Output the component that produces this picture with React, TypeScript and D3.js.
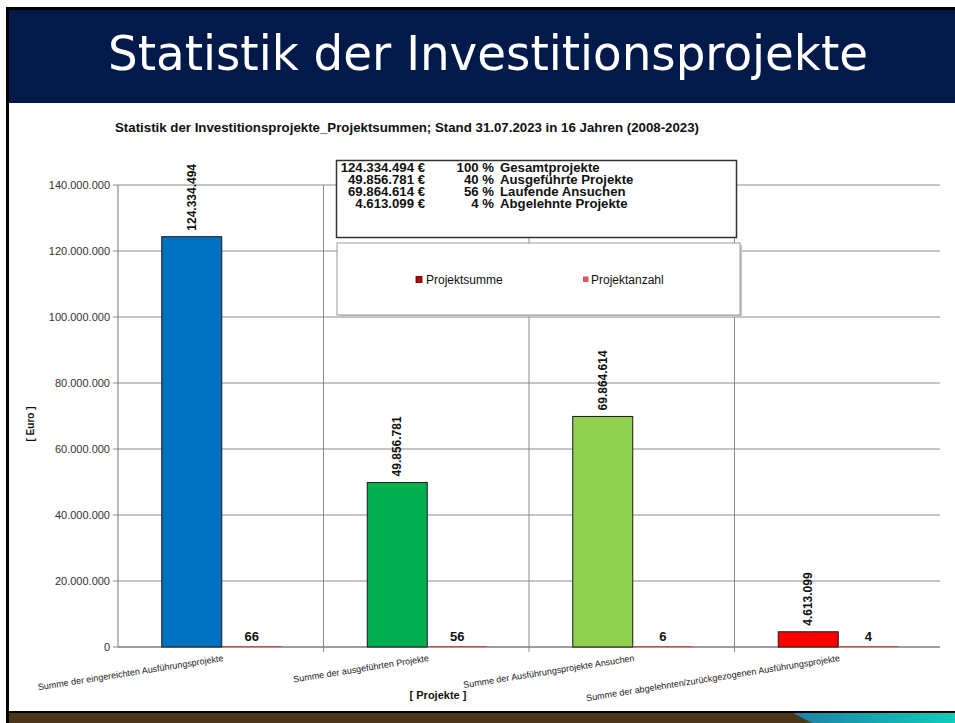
import React from 'react';
import * as d3 from 'd3';

// data
const categories = [
  'Summe der eingereichten Ausführungsprojekte',
  'Summe der ausgeführten Projekte',
  'Summe der Ausführungsprojekte Ansuchen',
  'Summe der abgelehnten/zurückgezogenen Ausführungsprojekte',
];
const projektsumme = [124334494, 49856781, 69864614, 4613099];
const projektanzahl = [66, 56, 6, 4];
const barColors = ['#0070c0', '#00b050', '#92d050', '#ff0000'];
const yTicks = [0, 20000000, 40000000, 60000000, 80000000, 100000000, 120000000, 140000000];

const infoAmounts = ['124.334.494 €', '49.856.781 €', '69.864.614 €', '4.613.099 €'];
const infoPercents = ['100 %', '40 %', '56 %', '4 %'];
const infoNames = ['Gesamtprojekte', 'Ausgeführte Projekte', 'Laufende Ansuchen', 'Abgelehnte Projekte'];

const W = 955;
const H = 723;
const plot = { left: 118, right: 940, top: 185, bottom: 647 };

const de = d3.formatLocale({ decimal: ',', thousands: '.', grouping: [3], currency: ['', ' €'] });
const fmt = de.format(',.0f');

const App = () => {
  const x = d3.scaleBand().domain(categories).range([plot.left, plot.right]).padding(0);
  const y = d3.scaleLinear().domain([0, 140000000]).range([plot.bottom, plot.top]);
  const barW = 60;
  const font = 'Arial, "Liberation Sans", sans-serif';

  return (
    <svg width={W} height={H} viewBox={`0 0 ${W} ${H}`}
      style={{ position: 'absolute', left: 0, top: 0, display: 'block', background: '#fff' }}>
      <defs>
        <linearGradient id="teal" x1="0" x2="1" y1="0" y2="0">
          <stop offset="0" stopColor="#1d7fa6" />
          <stop offset="1" stopColor="#10cdb9" />
        </linearGradient>
      </defs>

      {/* slide frame */}
      <rect x={6} y={7} width={W - 6} height={H - 7} fill="#000" />
      <rect x={9} y={10} width={W - 9} height={701} fill="#fff" />
      <rect x={9} y={10} width={W - 9} height={93} fill="#021a4a" />
      <text x={488} y={70} textAnchor="middle" fill="#fff" fontSize={48}
        fontFamily='Tahoma, "DejaVu Sans Condensed", "DejaVu Sans", sans-serif'
        textLength={760} lengthAdjust="spacingAndGlyphs">Statistik der Investitionsprojekte</text>
      <rect x={9} y={713} width={W - 9} height={10} fill="#4a3519" />
      <path d={`M793,713 L${W},713 L${W},723 L812,723 Z`} fill="url(#teal)" />

      {/* chart title */}
      <text x={115} y={132} fontSize={12.5} fontWeight="bold" fontFamily={font} fill="#111"
        textLength={584} lengthAdjust="spacingAndGlyphs">
        Statistik der Investitionsprojekte_Projektsummen; Stand 31.07.2023 in 16 Jahren (2008-2023)
      </text>

      {/* gridlines */}
      {yTicks.map(t => (
        <line key={t} x1={plot.left - 5} x2={plot.right} y1={y(t)} y2={y(t)} stroke="#8a8a8a" strokeWidth={1} />
      ))}
      {categories.slice(1).map(c => (
        <line key={c} x1={x(c)} x2={x(c)} y1={plot.top} y2={plot.bottom + 5} stroke="#8a8a8a" strokeWidth={1} />
      ))}
      <line x1={plot.left} x2={plot.left} y1={plot.top} y2={plot.bottom} stroke="#777" />
      <line x1={plot.left} x2={plot.right} y1={plot.bottom} y2={plot.bottom} stroke="#777" />

      {yTicks.map(t => (
        <text key={t} x={plot.left - 8} y={y(t) + 4} textAnchor="end" fontSize={11} fontFamily={font} fill="#333">
          {fmt(t)}
        </text>
      ))}

      {/* bars */}
      {categories.map((c, i) => {
        const cx = (x(c) as number) + x.bandwidth() / 2 + 1;
        const top = y(projektsumme[i]);
        const top2 = y(projektanzahl[i]);
        return (
          <g key={c}>
            <rect x={cx - barW} y={top} width={barW} height={plot.bottom - top}
              fill={barColors[i]} stroke="#1a1a1a" strokeWidth={1} />
            <line x1={cx} x2={cx + barW} y1={top2 - 0.5} y2={top2 - 0.5} stroke="#e83030" strokeWidth={0.8} />
            <text transform={`translate(${cx - barW / 2 + 4},${top - 6}) rotate(-90)`}
              fontSize={12} fontWeight="bold" fontFamily={font} fill="#111">{fmt(projektsumme[i])}</text>
            <text x={cx + barW / 2} y={plot.bottom - 6} textAnchor="middle" fontSize={13}
              fontWeight="bold" fontFamily={font} fill="#111">{projektanzahl[i]}</text>
            <text transform={`translate(${cx + 2},${plot.bottom + 14}) rotate(-9)`} textAnchor="end"
              fontSize={9} fontFamily={font} fill="#222">{c}</text>
          </g>
        );
      })}

      {/* axis titles */}
      <text transform="translate(34,424) rotate(-90)" textAnchor="middle" fontSize={10} fontWeight="bold"
        fontFamily={font} fill="#111">[ Euro ]</text>
      <text x={438} y={699} textAnchor="middle" fontSize={11} fontWeight="bold" fontFamily={font} fill="#111">
        [ Projekte ]
      </text>

      {/* info box */}
      <rect x={336.5} y={160.5} width={400} height={77} fill="#fff" stroke="#333" strokeWidth={1.5} />
      {infoAmounts.map((a, i) => (
        <g key={a} fontSize={13.2} fontWeight="bold" fontFamily={font} fill="#111">
          <text x={425} y={171.5 + i * 12.2} textAnchor="end">{a}</text>
          <text x={494} y={171.5 + i * 12.2} textAnchor="end">{infoPercents[i]}</text>
          <text x={500} y={171.5 + i * 12.2}>{infoNames[i]}</text>
        </g>
      ))}

      {/* legend */}
      <rect x={339} y={245} width={403} height={72} fill="#c8c8c8" />
      <rect x={337} y={243} width={403} height={72} fill="#fff" stroke="#999" strokeWidth={1} />
      <rect x={416} y={276.5} width={6} height={6} fill="#c00000" stroke="#400" strokeWidth={0.8} />
      <text x={426} y={284} fontSize={12} fontFamily={font} fill="#111">Projektsumme</text>
      <rect x={583} y={276.5} width={5.5} height={5.5} fill="#e05565" />
      <text x={591} y={284} fontSize={12} fontFamily={font} fill="#111">Projektanzahl</text>
    </svg>
  );
};

export default App;
